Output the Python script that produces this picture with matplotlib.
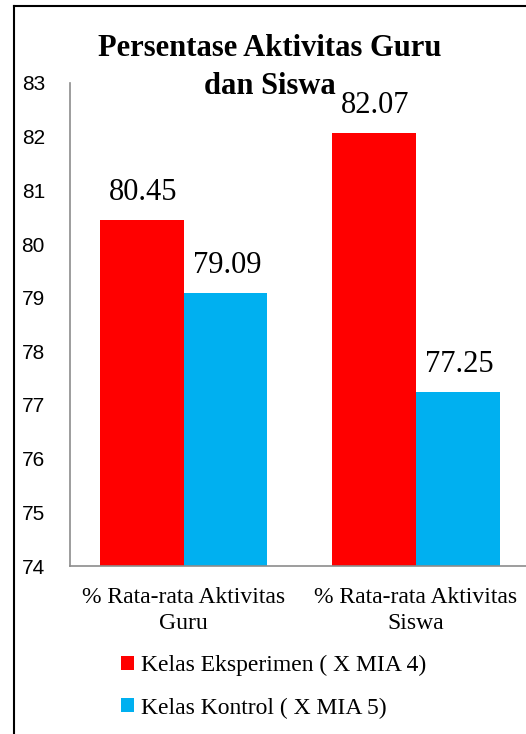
import numpy as np
import matplotlib.pyplot as plt
from matplotlib.lines import Line2D

# data
kategori = ['% Rata-rata Aktivitas\nGuru', '% Rata-rata Aktivitas\nSiswa']
eksperimen = [80.45, 82.07]
kontrol = [79.09, 77.25]
seri = ['Kelas Eksperimen ( X MIA 4)', 'Kelas Kontrol ( X MIA 5)']
warna = ['#ff0000', '#00b0f0']
judul = ['Persentase Aktivitas Guru', 'dan Siswa']

serif = 'Liberation Serif'

fig = plt.figure(figsize=(5.26, 7.34), dpi=100)
ax = fig.add_axes([70/526, 168/734, 456/526, 483/734])

x = np.arange(len(kategori))
w = 0.36
b1 = ax.bar(x - w/2, np.array(eksperimen) - 74, w, bottom=74, color=warna[0], label=seri[0])
b2 = ax.bar(x + w/2, np.array(kontrol) - 74, w, bottom=74, color=warna[1], label=seri[1])

for bars, vals in [(b1, eksperimen), (b2, kontrol)]:
    for r, v in zip(bars, vals):
        ax.annotate('%.2f' % v, (r.get_x() + r.get_width()/2, v), xytext=(1, 9),
                    textcoords='offset points', ha='center', va='bottom',
                    fontsize=22, family=serif)

ax.set_ylim(74, 83)
ax.set_xlim(-0.49, 1.474)
ax.set_yticks(range(74, 84))
ax.tick_params(axis='y', length=0, pad=18, labelsize=15)
ax.tick_params(axis='x', length=0, pad=15)
ax.set_xticks(x)
ax.set_xticklabels(kategori, fontsize=17, family=serif, linespacing=1.3)
for t in ax.get_yticklabels():
    t.set_family('Liberation Sans')

for s in ['top', 'right']:
    ax.spines[s].set_visible(False)
for s in ['left', 'bottom']:
    ax.spines[s].set_color('#8c8c8c')
    ax.spines[s].set_linewidth(1.2)

# judul dua baris terpisah
fig.text(270/526, 1 - 49/734, judul[0], ha='center', va='center',
         fontsize=22, fontweight='bold', family=serif)
fig.text(270/526, 1 - 87/734, judul[1], ha='center', va='center',
         fontsize=22, fontweight='bold', family=serif)

fig.legend(handles=[b1, b2], labels=seri, loc='upper left', bbox_to_anchor=(121/526, 1 - 655/734),
           frameon=False, prop={'family': serif, 'size': 17}, handlelength=0.55, handleheight=0.55,
           handletextpad=0.3, labelspacing=0.9, borderpad=0, borderaxespad=0)

# ramka
fig.add_artist(Line2D([14/526, 14/526], [0, 1 - 6/734], color='black', lw=1.5))
fig.add_artist(Line2D([14/526, 1], [1 - 6/734, 1 - 6/734], color='black', lw=1.5))

fig.savefig('out.png', dpi=100)
